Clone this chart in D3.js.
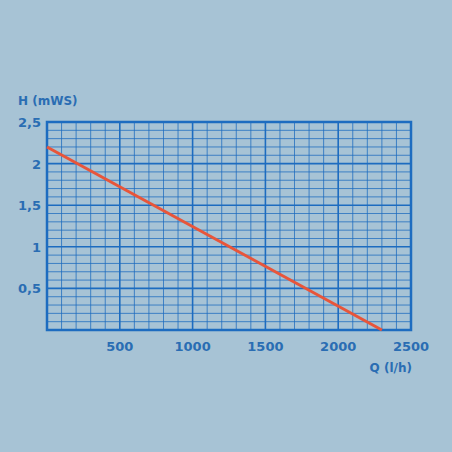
<!DOCTYPE html><html><head><meta charset="utf-8">
<script src="https://cdn.jsdelivr.net/npm/d3@7"></script>
<style>body{margin:0;background:#a7c3d5}</style></head><body>
<svg id="c" width="452" height="452"></svg>
<script>
const qValues=[0,2300];
const hValues=[2.2,0];
const xTicks=[500,1000,1500,2000,2500];
const yTicks=[0.5,1,1.5,2,2.5];
const yLabels=["0,5","1","1,5","2","2,5"];
const svg=d3.select("#c");
svg.append("rect").attr("width",452).attr("height",452).attr("fill","#a7c3d5");
const x=d3.scaleLinear().domain([0,2500]).range([47,411]);
const y=d3.scaleLinear().domain([0,2.5]).range([330,122]);
const blue="#1d6cc0";
const g=svg.append("g");
d3.range(0,2501,100).forEach(v=>{const maj=v%500===0;
 g.append("line").attr("x1",x(v)).attr("x2",x(v)).attr("y1",y(0)).attr("y2",y(2.5)).attr("stroke",blue).attr("stroke-width",maj?1.6:0.9).attr("opacity",maj?1:0.85);});
d3.range(0,26).forEach(i=>{const v=i/10;const maj=i%5===0;
 g.append("line").attr("x1",x(0)).attr("x2",x(2500)).attr("y1",y(v)).attr("y2",y(v)).attr("stroke",blue).attr("stroke-width",maj?1.6:0.9).attr("opacity",maj?1:0.85);});
g.append("rect").attr("x",x(0)).attr("y",y(2.5)).attr("width",x(2500)-x(0)).attr("height",y(0)-y(2.5)).attr("fill","none").attr("stroke",blue).attr("stroke-width",2.5);
const line=d3.line().x((d,i)=>x(d)).y((d,i)=>y(hValues[i]));
svg.append("path").attr("d",line(qValues)).attr("fill","none").attr("stroke","#e8553a").attr("stroke-width",3);
const font="'DejaVu Sans',sans-serif";
svg.selectAll(".xt").data(xTicks).enter().append("text").attr("x",d=>x(d)).attr("y",351).attr("text-anchor","middle").attr("font-family",font).attr("font-weight","bold").attr("font-size",13).attr("fill","#2a6db3").text(d=>d);
svg.selectAll(".yt").data(yTicks).enter().append("text").attr("x",41).attr("y",d=>y(d)+5).attr("text-anchor","end").attr("font-family",font).attr("font-weight","bold").attr("font-size",13).attr("fill","#2a6db3").text((d,i)=>yLabels[i]);
svg.append("text").attr("x",18).attr("y",105).attr("font-family",font).attr("font-weight","bold").attr("font-size",12).attr("fill","#2a6db3").text("H (mWS)");
svg.append("text").attr("x",412).attr("y",372).attr("text-anchor","end").attr("font-family",font).attr("font-weight","bold").attr("font-size",12).attr("fill","#2a6db3").text("Q (l/h)");
</script></body></html>
